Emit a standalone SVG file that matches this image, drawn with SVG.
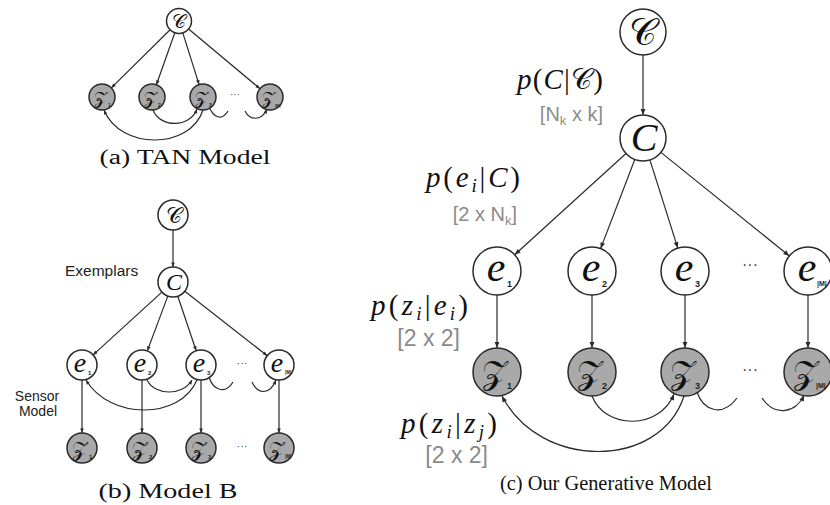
<svg xmlns="http://www.w3.org/2000/svg" width="830" height="505" viewBox="0 0 830 505">
<style>
.n{fill:#fff;stroke:#2a2a2a;stroke-width:1.5}
.g{fill:#a9a9a9;stroke:#2a2a2a;stroke-width:1.5}
.c{fill:none;stroke:#2a2a2a;stroke-width:1.2}
.m{font-family:'Liberation Serif','DejaVu Serif',serif;fill:#111}
.i{font-style:italic}
.s{font-family:'DejaVu Serif','DejaVu Sans',serif;fill:#111}
.sub{font-family:'Liberation Sans',Arial,sans-serif;font-weight:bold;fill:#222}
.dim{font-family:'Liberation Sans',Arial,sans-serif;fill:#8a8a8a}
.lab{font-family:'Liberation Sans',Arial,sans-serif;fill:#222}
.cap{font-family:'Liberation Serif','DejaVu Serif',serif;fill:#111}
.dots{font-family:'Liberation Sans',Arial,sans-serif;fill:#444}
</style>
<defs>
<marker id="ab" viewBox="0 0 10 10" refX="10" refY="5" markerWidth="7" markerHeight="6" markerUnits="userSpaceOnUse" orient="auto"><path d="M0,1 L10,5 L0,9 z" fill="#2a2a2a"/></marker>
<marker id="as" viewBox="0 0 10 10" refX="10" refY="5" markerWidth="5" markerHeight="4.5" markerUnits="userSpaceOnUse" orient="auto"><path d="M0,1 L10,5 L0,9 z" fill="#2a2a2a"/></marker>
</defs>

<g id="connectors">
<!-- panel a -->
<g marker-end="url(#as)" class="c">
<line x1="170.1" y1="29.8" x2="111.3" y2="87.9"/>
<line x1="174.8" y1="32.8" x2="156.4" y2="84.8"/>
<line x1="182.8" y1="32.9" x2="199.1" y2="84.6"/>
<line x1="188.6" y1="29" x2="260" y2="88.7"/>
<path d="M153,110 C160,128 190,128 197,109"/>
<path d="M203,110 C190,150 120,150 104,110"/>
<path d="M245,111 C250,121 262,121 267,109"/>
</g>
<path class="c" d="M209,106 C213,118 222,121 228,111"/>
<!-- panel b -->
<g marker-end="url(#as)" class="c">
<line x1="173" y1="230" x2="173" y2="267"/>
<line x1="161.9" y1="292.1" x2="93.1" y2="354.9"/>
<line x1="167.8" y1="296.1" x2="147.3" y2="350.9"/>
<line x1="177.8" y1="296.2" x2="196.2" y2="350.8"/>
<line x1="184.8" y1="291.3" x2="267.2" y2="355.7"/>
<line x1="82" y1="380" x2="82" y2="433"/>
<line x1="142" y1="380" x2="142" y2="433"/>
<line x1="201" y1="380" x2="201" y2="433"/>
<line x1="279" y1="380" x2="279" y2="433"/>
<path d="M147,380 C155,396 183,396 192,380"/>
<path d="M197,380 C180,420 110,420 86,380"/>
<path d="M252,382 C258,395 270,395 276,380"/>
</g>
<path class="c" d="M209,377 C213,390 225,395 233,382"/>
<!-- panel c -->
<g marker-end="url(#ab)" class="c">
<line x1="643" y1="55" x2="643" y2="115"/>
<line x1="626" y1="153.5" x2="514.7" y2="254.8"/>
<line x1="634.8" y1="159.5" x2="600.6" y2="248.6"/>
<line x1="649.9" y1="159.9" x2="677.8" y2="248.1"/>
<line x1="660.9" y1="152.4" x2="789.3" y2="255.9"/>
<line x1="497" y1="295" x2="497" y2="348"/>
<line x1="592" y1="295" x2="592" y2="348"/>
<line x1="685" y1="295" x2="685" y2="348"/>
<line x1="808" y1="295" x2="808" y2="348"/>
<path d="M592,396 C605,430 660,430 674,394"/>
<path d="M684,396 C660,470 540,470 502,396"/>
<path d="M762,398 C775,418 797,412 804,395"/>
</g>
<path class="c" d="M697,392 C703,410 722,418 737,398"/>
</g>

<!-- Panel a nodes -->
<g id="a-top"><circle class="n" cx="179" cy="21" r="12.5"/><text class="s" x="179" y="28" font-size="19" text-anchor="middle">𝒞</text></g>
<g id="a-z1"><circle class="g" cx="102" cy="97" r="13"/><text class="s" x="100" y="104" font-size="17" text-anchor="middle">𝒵</text><text class="sub" x="108" y="107" font-size="5">1</text></g>
<g id="a-z2"><circle class="g" cx="152" cy="97" r="13"/><text class="s" x="150" y="104" font-size="17" text-anchor="middle">𝒵</text><text class="sub" x="158" y="107" font-size="5">2</text></g>
<g id="a-z3"><circle class="g" cx="203" cy="97" r="13"/><text class="s" x="201" y="104" font-size="17" text-anchor="middle">𝒵</text><text class="sub" x="209" y="107" font-size="5">3</text></g>
<g id="a-zk"><circle class="g" cx="270" cy="97" r="13"/><text class="s" x="268" y="104" font-size="17" text-anchor="middle">𝒵</text><text class="sub" x="275" y="107" font-size="4">|M|</text></g>
<text class="dots" x="235" y="98" font-size="10" text-anchor="middle">···</text>
<text class="cap" x="185" y="164" font-size="20" text-anchor="middle" textLength="171" lengthAdjust="spacingAndGlyphs">(a)  TAN Model</text>

<!-- Panel b nodes -->
<g id="b-top"><circle class="n" cx="173" cy="215" r="15"/><text class="s" x="174" y="223" font-size="22" text-anchor="middle">𝒞</text></g>
<g id="b-C"><circle class="n" cx="173" cy="282" r="15"/><text class="m i" x="174" y="290" font-size="24" text-anchor="middle">C</text></g>
<text class="lab" x="65" y="276" font-size="15.5">Exemplars</text>
<text class="lab" x="37" y="401" font-size="14" text-anchor="middle">Sensor</text>
<text class="lab" x="38" y="416" font-size="14" text-anchor="middle">Model</text>
<g id="b-e1"><circle class="n" cx="82" cy="365" r="15"/><text class="m i" x="80" y="372" font-size="28" text-anchor="middle">e</text><text class="sub" x="88" y="375" font-size="6">1</text></g>
<g id="b-e2"><circle class="n" cx="142" cy="365" r="15"/><text class="m i" x="140" y="372" font-size="28" text-anchor="middle">e</text><text class="sub" x="148" y="375" font-size="6">2</text></g>
<g id="b-e3"><circle class="n" cx="201" cy="365" r="15"/><text class="m i" x="199" y="372" font-size="28" text-anchor="middle">e</text><text class="sub" x="207" y="375" font-size="6">3</text></g>
<g id="b-ek"><circle class="n" cx="279" cy="365" r="15"/><text class="m i" x="277" y="372" font-size="28" text-anchor="middle">e</text><text class="sub" x="285" y="374" font-size="4.5">|M|</text></g>
<g id="b-z1"><circle class="g" cx="82" cy="448" r="15"/><text class="s" x="79" y="456" font-size="20" text-anchor="middle">𝒵</text><text class="sub" x="89" y="459" font-size="6">1</text></g>
<g id="b-z2"><circle class="g" cx="142" cy="448" r="15"/><text class="s" x="139" y="456" font-size="20" text-anchor="middle">𝒵</text><text class="sub" x="149" y="459" font-size="6">2</text></g>
<g id="b-z3"><circle class="g" cx="201" cy="448" r="15"/><text class="s" x="198" y="456" font-size="20" text-anchor="middle">𝒵</text><text class="sub" x="208" y="459" font-size="6">3</text></g>
<g id="b-zk"><circle class="g" cx="279" cy="448" r="15"/><text class="s" x="276" y="456" font-size="20" text-anchor="middle">𝒵</text><text class="sub" x="285" y="458" font-size="4.5">|M|</text></g>
<text class="dots" x="242" y="367" font-size="11" text-anchor="middle">···</text>
<text class="dots" x="242" y="450" font-size="11" text-anchor="middle">···</text>
<text class="cap" x="168" y="498" font-size="20" text-anchor="middle" textLength="139" lengthAdjust="spacingAndGlyphs">(b)  Model B</text>

<!-- Panel c nodes -->
<g id="c-top"><circle class="n" cx="643" cy="32" r="23"/><text class="s" x="643" y="45" font-size="38" text-anchor="middle">𝒞</text></g>
<g id="c-C"><circle class="n" cx="643" cy="138" r="23"/><text class="m i" x="644" y="151" font-size="40" text-anchor="middle">C</text></g>
<g id="c-e1"><circle class="n" cx="497" cy="271" r="24"/><text class="m i" x="496" y="281" font-size="42" text-anchor="middle">e</text><text class="sub" x="507" y="287" font-size="9">1</text></g>
<g id="c-e2"><circle class="n" cx="592" cy="271" r="24"/><text class="m i" x="591" y="281" font-size="42" text-anchor="middle">e</text><text class="sub" x="602" y="287" font-size="9">2</text></g>
<g id="c-e3"><circle class="n" cx="685" cy="271" r="24"/><text class="m i" x="684" y="281" font-size="42" text-anchor="middle">e</text><text class="sub" x="695" y="287" font-size="9">3</text></g>
<g id="c-ek"><circle class="n" cx="808" cy="271" r="24"/><text class="m i" x="807" y="281" font-size="42" text-anchor="middle">e</text><text class="sub" x="817" y="286" font-size="7">|M|</text></g>
<g id="c-z1"><circle class="g" cx="497" cy="372" r="24"/><text class="s" x="494" y="384" font-size="33" text-anchor="middle">𝒵</text><text class="sub" x="507" y="389" font-size="9">1</text></g>
<g id="c-z2"><circle class="g" cx="592" cy="372" r="24"/><text class="s" x="589" y="384" font-size="33" text-anchor="middle">𝒵</text><text class="sub" x="602" y="389" font-size="9">2</text></g>
<g id="c-z3"><circle class="g" cx="685" cy="372" r="24"/><text class="s" x="682" y="384" font-size="33" text-anchor="middle">𝒵</text><text class="sub" x="695" y="389" font-size="9">3</text></g>
<g id="c-zk"><circle class="g" cx="808" cy="372" r="24"/><text class="s" x="805" y="384" font-size="33" text-anchor="middle">𝒵</text><text class="sub" x="816" y="388" font-size="7">|M|</text></g>
<text class="dots" x="750" y="270" font-size="16" text-anchor="middle">···</text>
<text class="dots" x="750" y="375" font-size="16" text-anchor="middle">···</text>

<!-- labels c -->
<text class="m" x="603" y="89" font-size="29" text-anchor="end" textLength="86" lengthAdjust="spacing"><tspan class="i">p</tspan>(<tspan class="i">C</tspan>|<tspan class="s">𝒞</tspan>)</text>
<text class="dim" x="603" y="121" font-size="20" text-anchor="end">[N<tspan font-size="13" dy="4">k</tspan><tspan dy="-4"> x k]</tspan></text>
<text class="m" x="520" y="187" font-size="29" text-anchor="end" textLength="94" lengthAdjust="spacing"><tspan class="i">p</tspan>(<tspan class="i">e</tspan><tspan class="i" font-size="19" dy="5">i</tspan><tspan dy="-5">|</tspan><tspan class="i">C</tspan>)</text>
<text class="dim" x="517" y="221" font-size="20" text-anchor="end">[2 x N<tspan font-size="13" dy="4">k</tspan><tspan dy="-4">]</tspan></text>
<text class="m" x="468" y="315" font-size="29" text-anchor="end" textLength="97" lengthAdjust="spacing"><tspan class="i">p</tspan>(<tspan class="i">z</tspan><tspan class="i" font-size="19" dy="5">i</tspan><tspan dy="-5">|</tspan><tspan class="i">e</tspan><tspan class="i" font-size="19" dy="5">i</tspan><tspan dy="-5">)</tspan></text>
<text class="dim" x="460" y="346" font-size="23" text-anchor="end">[2 x 2]</text>
<text class="m" x="497" y="433" font-size="29" text-anchor="end" textLength="96" lengthAdjust="spacing"><tspan class="i">p</tspan>(<tspan class="i">z</tspan><tspan class="i" font-size="19" dy="5">i</tspan><tspan dy="-5">|</tspan><tspan class="i">z</tspan><tspan class="i" font-size="19" dy="5">j</tspan><tspan dy="-5">)</tspan></text>
<text class="dim" x="488" y="463" font-size="23" text-anchor="end">[2 x 2]</text>
<text class="cap" x="606" y="490" font-size="20" text-anchor="middle" textLength="212" lengthAdjust="spacingAndGlyphs">(c)  Our Generative Model</text>
</svg>
